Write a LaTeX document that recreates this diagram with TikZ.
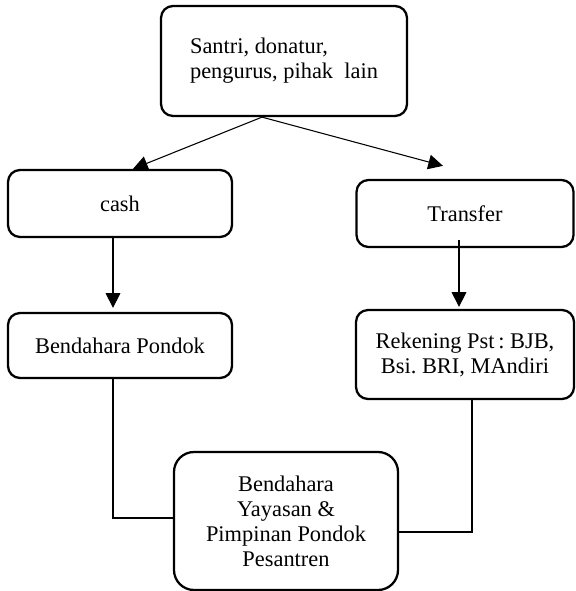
\documentclass[tikz,border=0pt]{standalone}
\usepackage{fontspec}
\setmainfont{Liberation Serif}
\usetikzlibrary{arrows.meta,calc}
\frenchspacing
\begin{document}
\begin{tikzpicture}[x=0.75pt,y=-0.75pt,
  box/.style={draw,line width=1.7pt,rounded corners=9pt,inner sep=0pt,align=center,
    font=\fontsize{16.8}{18.75}\selectfont},
  conn/.style={line width=0.8pt},
  arr/.style={conn,-{Triangle[length=11pt,width=11pt]}}]
\useasboundingbox (0,0) rectangle (575,591);
\node[box,minimum width=246*0.75pt,minimum height=110*0.75pt,align=left] (top) at (284,61)
  {Santri, donatur,\\pengurus, pihak\ \ lain};
\node[box,minimum width=224*0.75pt,minimum height=67*0.75pt] (cash) at (120,203.5) {cash};
\node[box,minimum width=217*0.75pt,minimum height=67*0.75pt] (transfer) at (465,213.5) {Transfer};
\node[box,minimum width=224*0.75pt,minimum height=65*0.75pt] (bp) at (120,345.5) {Bendahara Pondok};
\node[box,minimum width=218*0.75pt,minimum height=89*0.75pt] (rek) at (465,354.5)
  {Rekening Pst\,: BJB,\\Bsi. BRI, MAndiri};
\node[box,rounded corners=15pt,minimum width=224*0.75pt,minimum height=138*0.75pt] (by) at (286,521)
  {Bendahara\\Yayasan \&\\Pimpinan Pondok\\Pesantren};
\coordinate (split) at ($(top.south)+(-22,0)$);
\coordinate (tipL) at ($(cash.north)+(13,0)$);
\coordinate (tipR) at ($(transfer.north)+(-22,-13)$);
\draw[arr] (split) -- (tipL);
\draw[arr] (split) -- (tipR);
\coordinate (cb) at ($(cash.south)+(-7,0)$);
\draw[arr] (cb) -- ($(cb |- bp.north)+(0,-4)$);
\coordinate (tb) at ($(transfer.south)+(-6,-8)$);
\draw[arr] (tb) -- ($(tb |- rek.north)+(0,-2)$);
\coordinate (bpb) at ($(bp.south)+(-7,0)$);
\draw[conn] (bpb) |- ($(by.west)+(0,-3)$);
\coordinate (rb) at ($(rek.south)+(7,0)$);
\draw[conn] (rb) |- ($(by.east)+(0,11)$);
\end{tikzpicture}
\end{document}
